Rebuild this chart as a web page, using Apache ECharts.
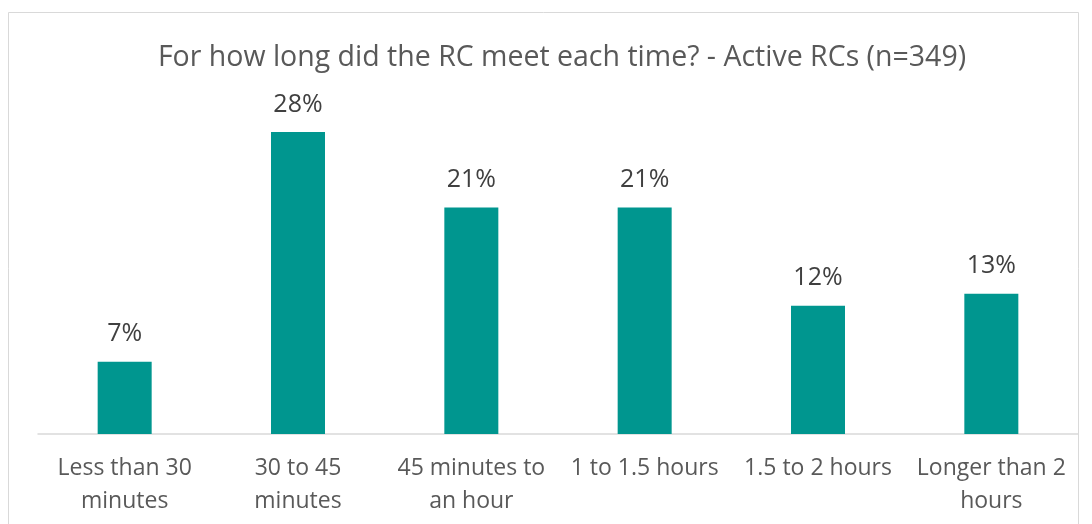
<!DOCTYPE html>
<html>
<head>
<meta charset="utf-8">
<script src="https://cdn.jsdelivr.net/npm/echarts@6/dist/echarts.min.js"></script>
<style>
  html, body { margin: 0; padding: 0; background: #fff; }
  #chart { width: 1092px; height: 524px; }
</style>
</head>
<body>
<div id="chart"></div>
<script>
// 数据
const categories = [
  'Less than 30\nminutes',
  '30 to 45\nminutes',
  '45 minutes to\nan hour',
  '1 to 1.5 hours',
  '1.5 to 2 hours',
  'Longer than 2\nhours'
]
const shares = [6.7, 28, 21, 21, 11.9, 13]

const chart = echarts.init(document.getElementById('chart'))
const font = '"Open Sans", "Noto Sans", sans-serif'

const option = {
  animation: false,
  backgroundColor: '#fff',
  title: {
    text: 'For how long did the RC meet each time? - Active RCs (n=349)',
    left: 557,
    textAlign: 'center',
    top: 38,
    textStyle: {
      color: '#595959',
      fontSize: 28.5,
      fontWeight: 'normal',
      fontFamily: font
    }
  },
  // 外框
  graphic: [{
    type: 'rect',
    shape: { x: 8.5, y: 12.5, width: 1070, height: 560 },
    style: { fill: 'none', stroke: '#d9d9d9', lineWidth: 1 },
    silent: true
  }],
  grid: { left: 38, right: 14, top: 110.4, bottom: 90 },
  xAxis: {
    type: 'category',
    data: categories,
    axisLine: { lineStyle: { color: '#d9d9d9', width: 1.5 } },
    axisTick: { show: false },
    axisLabel: {
      color: '#595959',
      fontSize: 23,
      fontFamily: font,
      lineHeight: 33,
      margin: 18,
      interval: 0
    }
  },
  yAxis: {
    type: 'value',
    min: 0,
    max: 30,
    show: false,
    splitLine: { show: false }
  },
  series: [{
    type: 'bar',
    data: shares,
    barWidth: 54,
    itemStyle: { color: '#00968F' },
    label: {
      show: true,
      position: 'top',
      distance: 15,
      color: '#404040',
      fontSize: 25,
      fontFamily: font,
      formatter: p => Math.round(p.value) + '%'
    }
  }]
}
chart.setOption(option)
</script>
</body>
</html>
